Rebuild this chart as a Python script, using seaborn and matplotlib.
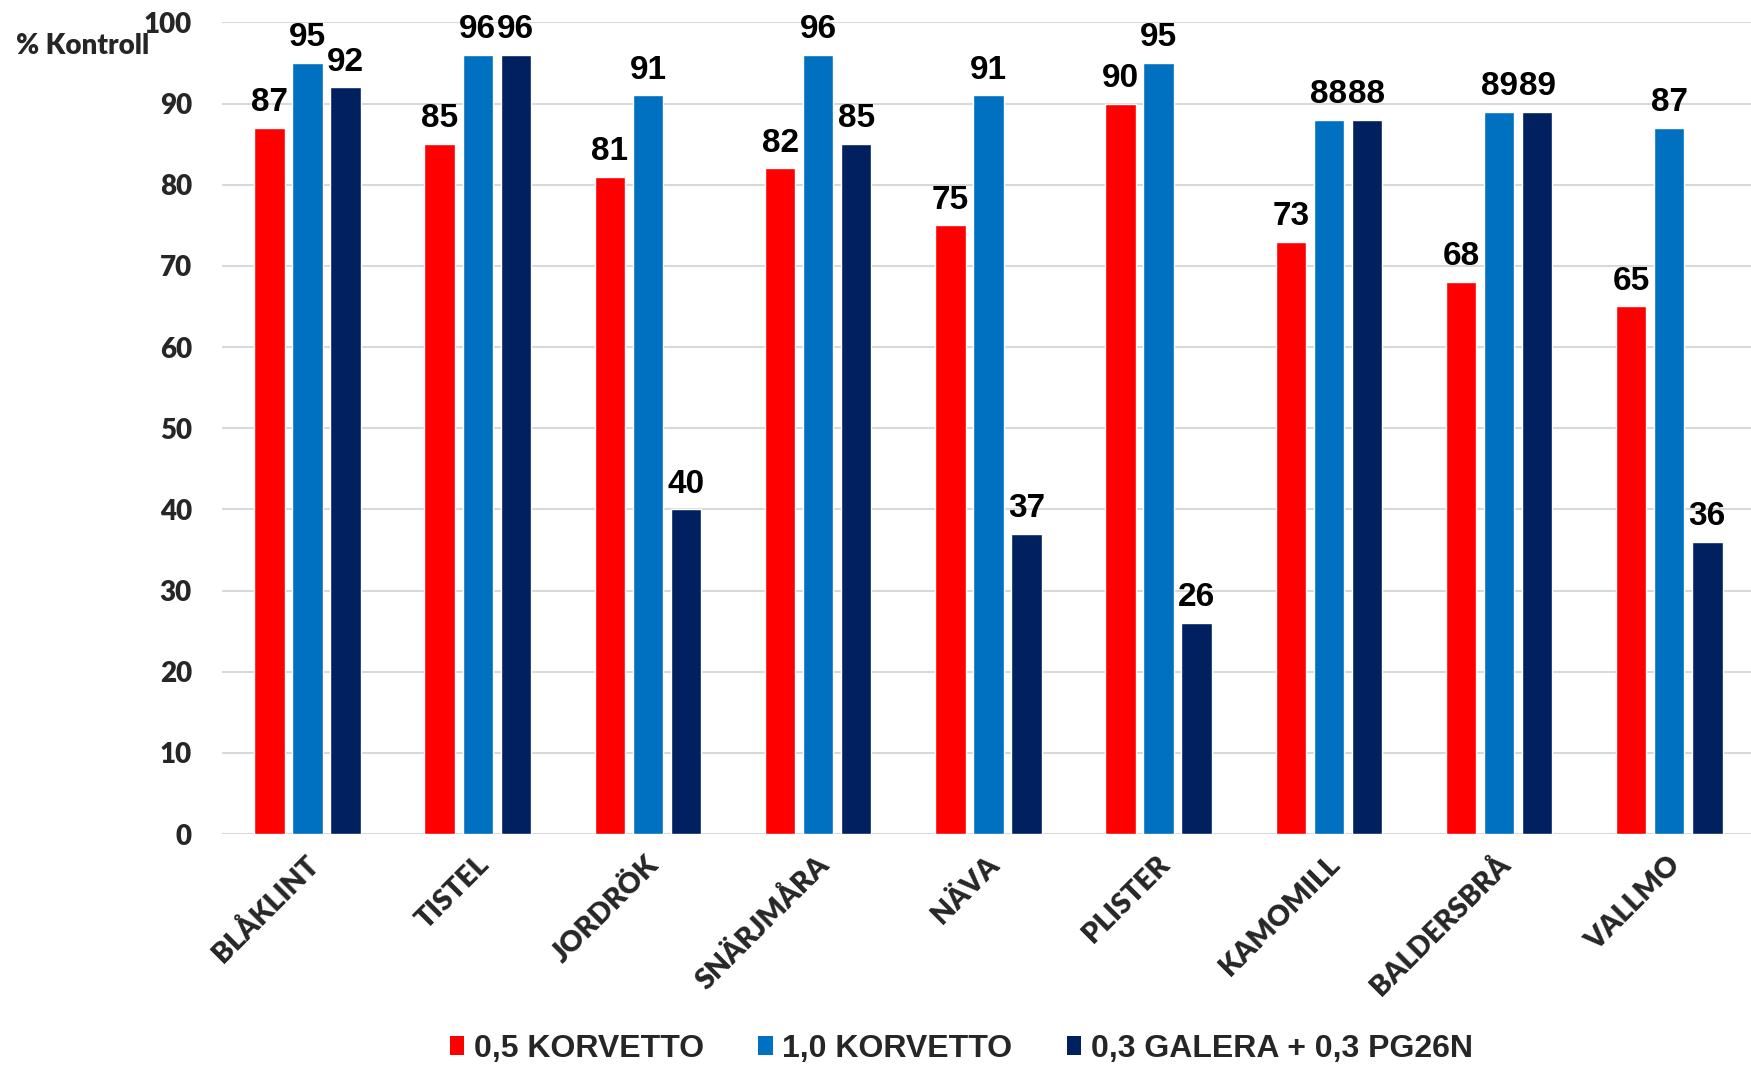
import matplotlib
matplotlib.use("Agg")
import matplotlib.pyplot as plt
from matplotlib import font_manager
from matplotlib.patches import Patch
from matplotlib.transforms import ScaledTranslation
import seaborn as sns
import pandas as pd

categories = ["BLÅKLINT", "TISTEL", "JORDRÖK", "SNÄRJMÅRA", "NÄVA",
              "PLISTER", "KAMOMILL", "BALDERSBRÅ", "VALLMO"]
series_names = ["0,5 KORVETTO", "1,0 KORVETTO", "0,3 GALERA + 0,3 PG26N"]
korvetto_05 = [87, 85, 81, 82, 75, 90, 73, 68, 65]
korvetto_10 = [95, 96, 91, 96, 91, 95, 88, 89, 87]
galera_pg = [92, 96, 40, 85, 37, 26, 88, 89, 36]
colors = ["#FF0000", "#0070C0", "#002060"]
y_ticks = [0, 10, 20, 30, 40, 50, 60, 70, 80, 90, 100]
y_label = "% Kontroll"

rows = []
for name, vals in zip(series_names, [korvetto_05, korvetto_10, galera_pg]):
    for c, v in zip(categories, vals):
        rows.append({"cat": c, "series": name, "val": v})
df = pd.DataFrame(rows)

sns.set_theme(style="white")
avail = {f.name for f in font_manager.fontManager.ttflist}
narrow = "Liberation Sans Narrow" if "Liberation Sans Narrow" in avail else "Liberation Sans"
plt.rcParams["font.family"] = ["Liberation Sans", "DejaVu Sans"]

fig = plt.figure(figsize=(17.51, 10.66), dpi=100)
ax = fig.add_axes([0.127, 0.2176, 0.873, 0.7614])

sns.barplot(data=df, x="cat", y="val", hue="series", order=categories,
            hue_order=series_names, palette=colors, saturation=1,
            width=0.67, gap=0.2, errorbar=None, ax=ax, legend=False)

ax.set_ylim(0, 100)
ax.set_xlim(-0.5, len(categories) - 0.52)
ax.set_yticks(y_ticks)
ax.yaxis.grid(True, color="#D9D9D9", linewidth=1.5)
ax.set_axisbelow(True)
for s in ax.spines.values():
    s.set_visible(False)
ax.set_xlabel("")
ax.set_ylabel("")
ax.tick_params(axis="y", length=0, pad=22)
ax.tick_params(axis="x", length=0, pad=19)
for lab in ax.get_yticklabels():
    lab.set_fontfamily(["Lato", "DejaVu Sans"])
    lab.set_fontweight("heavy")
    lab.set_fontsize(20)
ax.set_xticks(range(len(categories)))
ax.set_xticklabels(categories, rotation=45, ha="right", va="center",
                   rotation_mode="anchor", fontsize=20.5, fontweight="heavy",
                   family=["Lato", "DejaVu Sans"])
shift = ScaledTranslation(7 / 100, 0, fig.dpi_scale_trans)
for lab in ax.get_xticklabels():
    lab.set_transform(lab.get_transform() + shift)

for cont in ax.containers:
    ax.bar_label(cont, fmt="%d", padding=7, fontsize=24, fontweight="bold",
                 color="black")

fig.text(0.009, 0.957, y_label, fontsize=20, fontweight="heavy",
         family=["Lato", "DejaVu Sans"], ha="left", va="center")

handles = [Patch(facecolor=c, edgecolor="none") for c in colors]
fig.legend(handles, series_names, loc="center", bbox_to_anchor=(0.549, 0.016),
           ncol=3, frameon=False, handlelength=0.45, handleheight=0.55,
           handletextpad=0.3, columnspacing=1.7,
           prop={"family": narrow, "weight": "bold", "size": 23})

fig.savefig("out.png", dpi=100, facecolor="white")
